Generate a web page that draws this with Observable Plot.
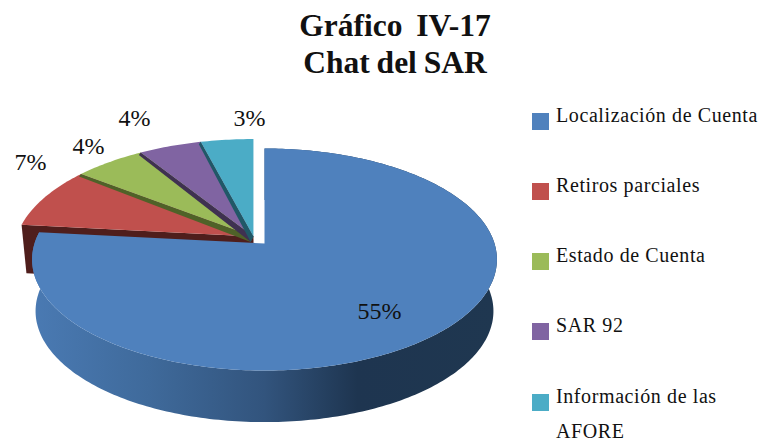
<!DOCTYPE html>
<html lang="es">
<head>
<meta charset="utf-8">
<script src="https://cdn.jsdelivr.net/npm/d3@7"></script>
<script src="https://cdn.jsdelivr.net/npm/@observablehq/plot@0.6"></script>
<style>
html,body{margin:0;padding:0;background:#fff;width:760px;height:441px;overflow:hidden}
body{position:relative;font-family:"Liberation Serif",serif;color:#111}
#title{height:85px;box-sizing:border-box;padding-top:7px;text-align:center;width:790px;font-weight:bold;font-size:31.5px;line-height:37px;white-space:pre;word-spacing:-1px}
#chart{position:absolute;left:0;top:85px}
.sw{position:absolute;left:532px;width:17px;height:17px}
.lb{position:absolute;left:556px;font-size:20px;letter-spacing:.6px;line-height:22px;white-space:nowrap}
</style>
</head>
<body>
<div id="title"></div>
<div id="chart"></div>
<div id="legend"></div>
<script>
// --- data ---
const titleLines = ["Gráfico  IV-17", "Chat del SAR"];
const categories = ["Localización de Cuenta", "Retiros parciales", "Estado de Cuenta", "SAR 92", "Información de las AFORE"];
const labels = ["55%", "7%", "4%", "4%", "3%"];
const shares = [76.7, 8.7, 5.6, 4.9, 4.1]; // visible share of the circle
const colors = ["#4f81bd", "#c0504d", "#9bbb59", "#8064a2", "#4bacc6"];
const darkColors = ["#1f3750", "#4f1e1c", "#4f6228", "#3f3151", "#205867"];

// --- layout ---
const K = 0.144;                 // perspective of the tilted disc
const SHIFT = [-0.048, -0.064];  // small slices relative to the exploded big one
const RIM = 1.03;                // small slice radius
const DEPTH = 0.475;             // disc thickness
const labelAt = [[0.5, 0.626], [-1.017, -0.745], [-0.765, -0.892], [-0.565, -1.15], [-0.065, -1.15]];
const legendTops = [113, 183, 253, 323, 394];
const legendTextTops = [104, 174, 244, 314, 385];

const project = (deg, r = 1, [ox, oy] = [0, 0]) => {
  const t = deg * Math.PI / 180, u = r * Math.sin(t), v = -r * Math.cos(t), w = 1 - K * v;
  return [ox + u / w, oy + v / w];
};

const arcs = [];
{ let a = 0; for (const s of shares) { arcs.push([a, a + s * 3.6]); a += s * 3.6; } }

const faces = [];
const addPoly = (arr, name, pts) => pts.forEach(([x, y]) => arr.push({name, x, y}));

// big slice: top face and the side wall
const side = [];
{
  const [a0, a1] = arcs[0];
  const top = [], bottom = [];
  for (let d = a0; d <= a1; d += 1) {
    const [x, y] = project(d);
    top.push([x, y]);
    bottom.push([x * 0.985, y + DEPTH]);
  }
  addPoly(side, "side", top.concat(bottom.reverse()));
  addPoly(faces, categories[0], [[0, 0], ...top]);
}

// small slices
const small = [];
arcs.slice(1).forEach(([a0, a1], i) => {
  const pts = [SHIFT];
  for (let d = a0; d <= a1 + 0.01; d += 1) pts.push(project(Math.min(d, a1), RIM, SHIFT));
  pts.push(project(a1, RIM, SHIFT));
  addPoly(small, categories[i + 1], pts);
});

// dark cut faces seen between the slices
const redCorner = project(arcs[1][0], RIM, SHIFT);
const redFace = [];
addPoly(redFace, "r", [SHIFT, redCorner, [redCorner[0] * 0.98, redCorner[1] + DEPTH * 0.94], [SHIFT[0] * 0.98, SHIFT[1] + DEPTH * 0.94]]);
const strips = [];
arcs.slice(2).forEach(([a0], i) => {
  const rim = project(a0, RIM, SHIFT);
  addPoly(strips, categories[i + 2], [SHIFT, rim, [rim[0] - 0.008, rim[1] + 0.022], [SHIFT[0] - 0.012, SHIFT[1] + 0.05]]);
});

const labelRows = labels.map((t, i) => ({t, x: labelAt[i][0], y: labelAt[i][1]}));

const defs = () => {
  const g = d3.create("svg:defs");
  const lg = g.append("linearGradient").attr("id", "sideGrad").attr("x1", 0).attr("x2", 1).attr("y1", 0).attr("y2", 0);
  [[0, "#4a7ab3"], [0.25, "#3f6a9b"], [0.5, "#32547d"], [0.7, "#1e3550"], [1, "#1f3750"]]
    .forEach(([o, c]) => lg.append("stop").attr("offset", o).attr("stop-color", c));
  return g.node();
};

const chart = Plot.plot({
  width: 520,
  height: 356,
  margin: 0,
  style: {background: "transparent", overflow: "visible"},
  x: {axis: null, domain: [-1, 1], range: [34, 494]},
  y: {axis: null, domain: [-1, 1], range: [49.3, 266.7]},
  color: {domain: categories, range: colors},
  marks: [
    defs,
    Plot.line(redFace, {x: "x", y: "y", fill: darkColors[1], stroke: null}),
    Plot.line(small, {x: "x", y: "y", z: "name", fill: "name", stroke: null}),
    ...[2, 3, 4].map(i => Plot.line(strips.filter(d => d.name === categories[i]), {x: "x", y: "y", fill: darkColors[i], stroke: null})),
    Plot.line(side, {x: "x", y: "y", fill: "url(#sideGrad)", stroke: null}),
    Plot.line(faces, {x: "x", y: "y", z: "name", fill: "name", stroke: null}),
    Plot.text(labelRows, {x: "x", y: "y", text: "t", fontSize: 24, fontFamily: "Liberation Serif", fill: "#111"})
  ]
});
document.getElementById("chart").append(chart);
document.getElementById("title").textContent = titleLines.join("\n");

const legend = document.getElementById("legend");
const legendLines = [["Localización de Cuenta"], ["Retiros parciales"], ["Estado de Cuenta"], ["SAR 92"], ["Información de las", "AFORE"]];
categories.forEach((c, i) => {
  const s = document.createElement("div");
  s.className = "sw"; s.style.top = legendTops[i] + "px"; s.style.background = colors[i];
  legend.append(s);
  legendLines[i].forEach((line, j) => {
    const t = document.createElement("div");
    t.className = "lb"; t.style.top = (legendTextTops[i] + j * 35) + "px"; t.textContent = line;
    legend.append(t);
  });
});
</script>
</body>
</html>
